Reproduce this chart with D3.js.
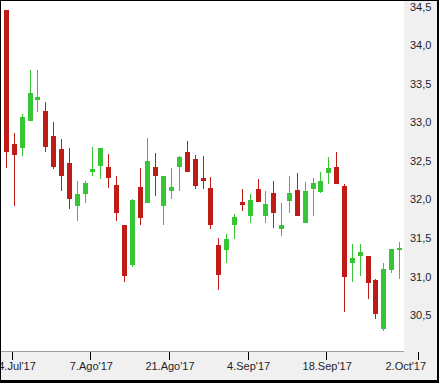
<!DOCTYPE html>
<html>
<head>
<meta charset="utf-8">
<script src="https://cdn.jsdelivr.net/npm/d3@7"></script>
<style>
  body { margin: 0; background: #fff; }
  svg { display: block; font-family: "Liberation Sans", Arial, sans-serif; }
</style>
</head>
<body>
<div id="chart"></div>
<script>
// Daily candles, 21 Jul 2017 - 29 Sep 2017
var dates = ['2017-07-21', '2017-07-24', '2017-07-25', '2017-07-26', '2017-07-27', '2017-07-28', '2017-07-31',
    '2017-08-01', '2017-08-02', '2017-08-03', '2017-08-04', '2017-08-07', '2017-08-08', '2017-08-09',
    '2017-08-10', '2017-08-11', '2017-08-14', '2017-08-15', '2017-08-16', '2017-08-17', '2017-08-18',
    '2017-08-21', '2017-08-22', '2017-08-23', '2017-08-24', '2017-08-25', '2017-08-28', '2017-08-29',
    '2017-08-30', '2017-08-31', '2017-09-01', '2017-09-04', '2017-09-05', '2017-09-06', '2017-09-07',
    '2017-09-08', '2017-09-11', '2017-09-12', '2017-09-13', '2017-09-14', '2017-09-15', '2017-09-18',
    '2017-09-19', '2017-09-20', '2017-09-21', '2017-09-22', '2017-09-25', '2017-09-26', '2017-09-27',
    '2017-09-28', '2017-09-29'];

var open = [34.46, 32.72, 32.67, 33.02, 33.29, 33.15, 32.82, 32.65, 32.47, 31.92, 32.07, 32.35, 32.44,
    32.42, 32.19, 31.67, 31.15, 32.16, 31.96, 32.42, 31.91, 32.11, 32.42, 32.62, 32.52, 32.28, 32.15,
    31.41, 31.35, 31.67, 31.97, 31.79, 32.14, 31.78, 32.08, 31.62, 31.98, 32.12, 31.69, 32.13, 32.10,
    32.34, 32.42, 32.17, 31.18, 31.27, 31.27, 30.95, 30.32, 31.08, 31.34];
var high = [34.46, 32.86, 33.11, 33.68, 33.68, 33.26, 33.00, 32.78, 32.67, 32.24, 32.24, 32.68, 32.67,
    32.59, 32.30, 31.67, 32.01, 32.41, 32.80, 32.60, 32.30, 32.41, 32.56, 32.76, 32.58, 32.56, 32.29,
    31.50, 31.55, 31.81, 32.14, 32.07, 32.27, 32.11, 32.24, 31.95, 32.30, 32.34, 32.23, 32.28, 32.36,
    32.55, 32.62, 32.20, 31.42, 31.42, 31.27, 30.97, 31.17, 31.36, 31.45];
var low = [32.41, 31.92, 32.57, 33.02, 33.14, 32.62, 32.39, 32.11, 31.88, 31.72, 31.96, 32.30, 32.27,
    32.15, 31.72, 30.93, 31.13, 31.67, 31.96, 32.05, 31.67, 32.01, 32.11, 32.36, 32.14, 32.14, 31.62,
    30.82, 31.18, 31.49, 31.85, 31.70, 31.97, 31.70, 31.63, 31.52, 31.83, 31.78, 31.69, 31.79, 32.09,
    32.20, 32.20, 30.54, 30.93, 31.01, 30.71, 30.45, 30.30, 31.04, 30.97];
var close = [32.61, 32.58, 33.07, 33.38, 33.33, 32.68, 32.42, 32.31, 32.00, 32.07, 32.21, 32.40, 32.67,
    32.28, 31.83, 31.01, 31.99, 31.76, 32.50, 32.31, 32.30, 32.16, 32.55, 32.36, 32.18, 32.24, 31.67,
    31.02, 31.49, 31.77, 31.93, 31.99, 31.97, 31.94, 31.83, 31.67, 32.08, 31.78, 32.11, 32.21, 32.24,
    32.41, 32.20, 30.99, 31.24, 31.32, 30.91, 30.51, 31.10, 31.36, 31.37];

var yTicks = [30.5, 31.0, 31.5, 32.0, 32.5, 33.0, 33.5, 34.0, 34.5];
var xTickLabels = ["24.Jul'17", "7.Ago'17", "21.Ago'17", "4.Sep'17", "18.Sep'17", "2.Oct'17"];
var xTickLabelSlots = [0.95, 10.8, 20.8, 30.8, 40.8, 50.8];
var xTickMarkSlots = [0.8, 10.8, 20.8, 30.8, 40.8, 52.5];

var svgWidth = 439;
var svgHeight = 383;

// plot area (white) and axis panels (grey)
var plot = { left: 1, top: 1, right: 404, bottom: 351 };

var upColor = '#35c535';
var downColor = '#bf1b17';

var svg = d3.select('#chart')
    .append('svg')
    .attr('width', svgWidth)
    .attr('height', svgHeight);

// frame
svg.append('rect')
    .attr('width', svgWidth)
    .attr('height', svgHeight)
    .attr('fill', '#000');

svg.append('rect')
    .attr('x', 1)
    .attr('y', 1)
    .attr('width', 436)
    .attr('height', 379)
    .attr('fill', '#f0f0f0');

svg.append('rect')
    .attr('x', plot.left)
    .attr('y', plot.top)
    .attr('width', plot.right - plot.left)
    .attr('height', plot.bottom - plot.top)
    .attr('fill', '#fff');

svg.append('line')
    .attr('x1', plot.left)
    .attr('x2', plot.right)
    .attr('y1', plot.bottom + 0.5)
    .attr('y2', plot.bottom + 0.5)
    .attr('stroke', '#a0a0a0');

// scales
var xScale = d3.scaleLinear()
    .domain([0, 50])
    .range([6.5, 399.5]);

var yScale = d3.scaleLinear()
    .domain([30.5, 34.5])
    .range([315.1, 6.7]);

var candles = dates.map((d, i) => ({
    date: d,
    open: open[i],
    high: high[i],
    low: low[i],
    close: close[i]
}));

var candleGroup = svg.append('g')
    .attr('shape-rendering', 'crispEdges');

var bodyLeft = (i) => Math.round(xScale(i) - 2.5);
var colorOf = (d) => d.close >= d.open ? upColor : downColor;

// wicks
candleGroup.selectAll('.wick')
    .data(candles)
    .enter()
    .append('rect')
    .attr('class', 'wick')
    .attr('x', (d, i) => bodyLeft(i) + 2)
    .attr('width', 1)
    .attr('y', (d) => Math.round(yScale(d.high)))
    .attr('height', (d) => Math.max(1, Math.round(yScale(d.low)) - Math.round(yScale(d.high))))
    .attr('fill', colorOf);

// bodies
candleGroup.selectAll('.body')
    .data(candles)
    .enter()
    .append('rect')
    .attr('class', 'body')
    .attr('x', (d, i) => bodyLeft(i))
    .attr('width', 5)
    .attr('y', (d) => Math.round(yScale(Math.max(d.open, d.close))))
    .attr('height', (d) => Math.max(2, Math.round(yScale(Math.min(d.open, d.close))) - Math.round(yScale(Math.max(d.open, d.close)))))
    .attr('fill', colorOf);

// right axis: labels only
var esLocale = d3.formatLocale({ decimal: ',', thousands: '.', grouping: [3], currency: ['', ' €'] });

var yAxis = svg.append('g')
    .attr('transform', `translate(${plot.right}, 0)`)
    .call(d3.axisRight(yScale)
        .tickValues(yTicks)
        .tickSize(0)
        .tickPadding(6)
        .tickFormat(esLocale.format('.1f')));

yAxis.select('.domain').remove();
yAxis.selectAll('text')
    .attr('font-size', 11)
    .attr('font-family', '"Liberation Sans", Arial, sans-serif')
    .attr('fill', '#1e1e2e');

// bottom axis: tick marks and labels
var xAxis = svg.append('g');

xAxis.selectAll('line')
    .data(xTickMarkSlots)
    .enter()
    .append('line')
    .attr('x1', (d) => Math.round(xScale(d)) - 0.5)
    .attr('x2', (d) => Math.round(xScale(d)) - 0.5)
    .attr('y1', plot.bottom + 1)
    .attr('y2', plot.bottom + 9)
    .attr('stroke', '#000');

xAxis.selectAll('text')
    .data(xTickLabels)
    .enter()
    .append('text')
    .attr('x', (d, i) => xScale(xTickLabelSlots[i]))
    .attr('y', 369.7)
    .attr('text-anchor', 'middle')
    .attr('font-size', 11)
    .attr('fill', '#1e1e2e')
    .text((d) => d);

// left border drawn over clipped label
svg.append('rect')
    .attr('width', 1)
    .attr('height', svgHeight)
    .attr('fill', '#000');
</script>
</body>
</html>
